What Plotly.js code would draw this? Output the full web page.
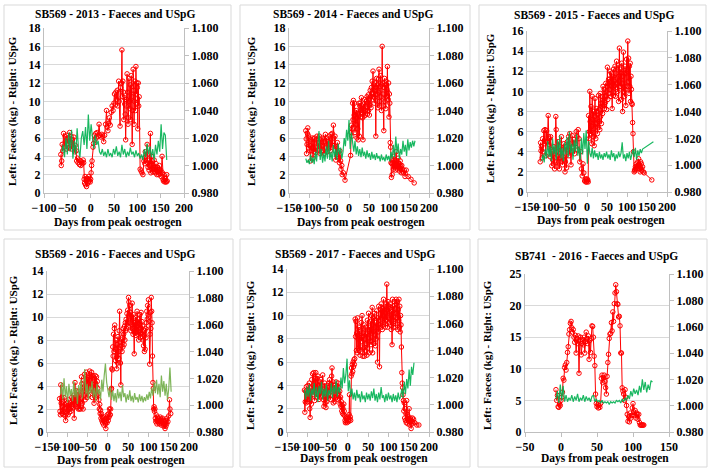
<!DOCTYPE html>
<html>
<head>
<meta charset="utf-8">
<script src="https://cdn.plot.ly/plotly-3.0.1.min.js"></script>
<style>
  html, body { margin: 0; padding: 0; background: #fff; }
  #chart { width: 712px; height: 471px; }
</style>
</head>
<body>
<div id="chart"></div>
<script>
// Faeces (kg, left axis) and urine specific gravity (USpG, right axis)
// against days from peak oestrogen. Pairs are [day, value].

const titles = [
    'SB569 - 2013 - Faeces and USpG',
    'SB569 - 2014 - Faeces and USpG',
    'SB569 - 2015 - Faeces and USpG',
    'SB569 - 2016 - Faeces and USpG',
    'SB569 - 2017 - Faeces and USpG',
    'SB741  - 2016 - Faeces and USpG'
];
const xTitle = 'Days from peak oestrogen';
const yTitle = 'Left: Faeces (kg) - Right: USpG';

const faeces2013 = [[-64,4.2],[-63,3.0],[-62,3.5],[-61,5.3],[-60,4.6],[-58,6.5],[-57,5.0],[-55,6.2],[-54,5.6],[-52,4.8],[-51,6.3],[-49,5.4],[-48,6.0],[-46,4.9],[-45,6.6],[-43,5.5],[-42,6.2],[-40,4.8],[-39,5.8],[-37,5.0],[-36,6.1],[-34,4.5],[-33,5.2],[-31,4.6],[-30,3.5],[-28,3.8],[-27,3.3],[-25,3.6],[-24,3.1],[-22,3.5],[-21,3.0],[-19,3.4],[-18,3.2],[-16,3.6],[-15,3.3],[-14,1.5],[-13,1.1],[-12,1.8],[-11,0.9],[-10,1.4],[-9,0.7],[-8,1.6],[-7,1.0],[-6,1.5],[-5,1.2],[-4,1.8],[-3,1.3],[-2,1.6],[-1,1.2],[0,1.5],[1,2.2],[2,3.0],[3,3.5],[5,5.0],[6,5.4],[8,6.3],[9,5.8],[11,6.5],[12,6.0],[14,6.6],[16,6.2],[18,7.5],[20,6.3],[22,6.1],[24,6.4],[26,6.2],[28,5.6],[30,6.3],[32,7.5],[34,9.0],[35,7.2],[37,6.8],[39,7.6],[40,8.2],[42,7.4],[44,8.8],[46,9.5],[48,9.0],[50,9.8],[51,10.8],[53,9.6],[54,11.0],[56,10.2],[57,11.2],[58,9.5],[60,12.2],[61,10.0],[63,7.3],[64,11.5],[66,12.0],[67,15.6],[68,10.5],[69,12.2],[70,11.0],[71,8.0],[72,10.4],[73,9.7],[74,8.6],[75,5.8],[76,9.5],[77,10.2],[78,13.0],[79,11.0],[80,7.5],[81,8.2],[82,12.5],[83,10.0],[84,9.2],[85,11.8],[86,8.0],[87,12.8],[88,10.5],[89,5.3],[90,9.0],[91,13.5],[92,11.2],[93,7.5],[94,10.0],[95,12.2],[96,9.0],[97,13.8],[98,10.8],[99,12.0],[100,11.5],[101,7.0],[102,12.0],[103,9.5],[104,10.5],[106,2.6],[108,2.4],[110,2.2],[112,2.0],[114,3.5],[115,3.8],[116,3.2],[117,4.5],[119,4.0],[121,5.3],[122,3.3],[123,2.8],[124,3.5],[125,2.5],[126,3.0],[128,6.5],[129,2.2],[130,4.0],[131,2.6],[132,3.5],[133,2.3],[134,3.0],[135,2.6],[136,3.6],[137,2.3],[138,2.8],[139,2.2],[140,3.2],[141,2.5],[142,2.0],[143,2.8],[144,2.3],[145,2.6],[146,2.0],[147,3.0],[148,2.4],[149,2.1],[150,2.5],[151,1.8],[153,4.0],[154,2.2],[155,1.5],[156,1.3],[157,2.0],[158,1.4],[159,1.2],[160,1.6],[161,1.3],[162,1.2],[163,2.0],[164,1.3]];
const uspg2013 = [[-62,1.010],[-59,1.015],[-56,1.006],[-53,1.020],[-50,1.008],[-47,1.024],[-44,1.010],[-41,1.026],[-38,1.005],[-35,1.018],[-32,1.008],[-29,1.027],[-26,1.012],[-23,1.006],[-20,1.020],[-17,1.025],[-14,1.015],[-11,1.028],[-8,1.012],[-5,1.037],[-2,1.018],[1,1.030],[4,1.020],[7,1.012],[10,1.022],[13,1.015],[16,1.018],[19,1.010],[22,1.008],[25,1.012],[28,1.007],[31,1.010],[34,1.006],[37,1.012],[40,1.007],[43,1.009],[46,1.006],[49,1.012],[52,1.008],[55,1.014],[58,1.007],[61,1.010],[64,1.006],[67,1.015],[70,1.008],[73,1.012],[76,1.006],[79,1.010],[82,1.007],[85,1.013],[88,1.008],[91,1.010],[94,1.006],[97,1.011],[100,1.007],[103,1.009],[106,1.005],[109,1.008],[112,1.004],[115,1.012],[118,1.006],[121,1.016],[124,1.008],[127,1.014],[130,1.006],[133,1.012],[136,1.004],[139,1.015],[142,1.008],[145,1.018],[148,1.010],[151,1.030],[154,1.012],[157,1.024],[160,1.022],[163,1.004]];

const faeces2014 = [[-108,6.8],[-107,5.9],[-106,4.3],[-105,5.3],[-104,6.5],[-103,7.1],[-102,6.3],[-101,4.9],[-100,6.0],[-99,5.2],[-98,4.6],[-96,3.5],[-95,5.8],[-94,4.6],[-92,6.0],[-91,5.0],[-90,3.8],[-88,5.9],[-87,4.5],[-86,6.0],[-84,5.0],[-83,4.4],[-81,5.8],[-80,6.2],[-78,4.6],[-77,5.5],[-75,4.8],[-74,6.2],[-72,4.3],[-71,5.8],[-69,4.5],[-68,6.0],[-66,5.2],[-65,4.6],[-63,5.9],[-62,4.3],[-60,5.6],[-59,6.4],[-57,5.0],[-56,6.0],[-54,4.5],[-53,5.6],[-51,4.9],[-50,6.2],[-48,5.5],[-47,4.6],[-45,6.4],[-44,5.0],[-42,6.5],[-41,5.2],[-39,7.4],[-38,6.0],[-36,5.2],[-35,6.2],[-33,3.6],[-32,5.0],[-30,4.2],[-29,5.5],[-27,4.0],[-26,3.8],[-24,3.3],[-23,4.6],[-21,3.5],[-20,2.6],[-18,3.0],[-17,2.0],[-14,2.2],[-10,1.4],[4,4.1],[5,6.6],[6,7.4],[7,6.2],[8,7.0],[9,9.8],[10,8.0],[11,10.1],[12,7.2],[13,8.5],[14,9.8],[15,6.6],[16,8.8],[17,7.5],[18,9.0],[19,8.2],[20,6.0],[21,8.7],[22,7.0],[23,5.8],[24,8.5],[25,9.8],[26,6.2],[27,9.5],[28,9.8],[29,8.3],[30,9.0],[31,10.4],[32,8.8],[33,9.5],[34,8.2],[35,5.8],[36,9.7],[37,9.2],[38,8.4],[39,10.2],[40,9.0],[41,8.5],[42,9.4],[43,10.0],[44,9.7],[45,10.5],[46,8.6],[47,9.8],[48,10.7],[49,9.0],[50,10.2],[51,8.5],[52,9.6],[53,11.2],[54,10.5],[55,9.3],[56,11.5],[57,10.8],[58,12.2],[59,11.0],[60,13.3],[61,10.5],[62,11.8],[63,9.8],[64,10.4],[65,12.0],[66,11.2],[67,6.2],[68,11.5],[69,12.5],[70,10.8],[71,11.8],[72,9.3],[73,12.4],[74,11.0],[75,13.5],[76,10.0],[77,9.5],[78,11.6],[79,12.8],[80,10.5],[81,9.0],[82,11.8],[83,16.0],[84,12.0],[85,10.8],[86,9.5],[87,6.8],[88,11.5],[89,12.5],[90,10.0],[91,11.8],[92,9.2],[93,12.2],[94,10.5],[95,11.3],[96,13.8],[97,11.0],[98,10.2],[99,12.0],[100,8.3],[101,10.8],[102,9.8],[103,5.5],[104,5.0],[105,3.3],[106,1.7],[107,3.2],[108,2.0],[109,3.5],[110,3.3],[111,2.6],[112,4.0],[113,3.0],[114,2.8],[115,3.6],[116,2.5],[117,3.2],[118,4.5],[119,2.8],[120,3.5],[121,2.6],[122,3.0],[123,3.8],[124,2.8],[125,3.2],[126,2.4],[127,3.0],[128,3.5],[129,2.6],[130,2.9],[131,2.2],[132,3.0],[133,2.6],[134,2.4],[136,2.2],[138,2.5],[140,1.8],[143,2.5],[148,1.8],[155,1.5],[163,1.1]];
const uspg2014 = [[-108,1.005],[-105,1.002],[-102,1.004],[-99,1.001],[-96,1.008],[-93,1.002],[-90,1.006],[-87,1.001],[-84,1.010],[-81,1.003],[-78,1.016],[-75,1.025],[-72,1.004],[-69,1.012],[-66,1.002],[-63,1.009],[-60,1.003],[-57,1.014],[-54,1.005],[-51,1.018],[-48,1.004],[-45,1.010],[-42,1.003],[-39,1.015],[-36,1.006],[-33,1.012],[-30,1.004],[-27,1.016],[-24,1.008],[-21,1.013],[-18,1.005],[-15,1.010],[-12,1.020],[-9,1.014],[-6,1.026],[-3,1.018],[0,1.033],[3,1.012],[6,1.024],[9,1.017],[12,1.010],[15,1.018],[18,1.008],[21,1.014],[24,1.007],[27,1.012],[30,1.006],[33,1.013],[36,1.007],[39,1.010],[42,1.005],[45,1.011],[48,1.006],[51,1.009],[54,1.004],[57,1.010],[60,1.005],[63,1.008],[66,1.004],[69,1.009],[72,1.005],[75,1.007],[78,1.003],[81,1.008],[84,1.004],[87,1.006],[90,1.003],[93,1.008],[96,1.004],[99,1.007],[102,1.003],[105,1.010],[108,1.005],[111,1.015],[114,1.006],[117,1.021],[120,1.009],[123,1.016],[126,1.005],[129,1.012],[132,1.008],[135,1.018],[138,1.010],[141,1.015],[144,1.007],[147,1.019],[150,1.011],[153,1.017],[156,1.013],[159,1.018],[162,1.014],[165,1.018]];

const faeces2015 = [[-117,3.0],[-116,4.9],[-115,4.1],[-114,4.5],[-112,3.4],[-111,5.3],[-110,4.0],[-108,6.1],[-107,4.8],[-105,6.2],[-104,5.0],[-103,3.6],[-101,6.1],[-99,5.0],[-97,7.6],[-96,5.5],[-95,4.7],[-94,5.3],[-92,3.5],[-91,5.5],[-90,4.2],[-88,2.6],[-87,4.0],[-86,3.2],[-84,2.8],[-83,4.5],[-81,2.3],[-80,3.4],[-78,7.5],[-77,6.2],[-76,4.0],[-75,2.5],[-73,3.6],[-72,5.0],[-71,3.0],[-69,2.3],[-68,3.8],[-67,4.5],[-65,3.0],[-64,5.5],[-63,4.2],[-61,2.7],[-60,3.5],[-58,4.8],[-57,3.2],[-55,2.0],[-54,3.0],[-52,4.5],[-51,2.4],[-49,5.0],[-48,4.2],[-46,5.5],[-45,3.6],[-43,5.8],[-42,4.8],[-40,2.7],[-39,4.0],[-37,5.6],[-35,4.5],[-33,5.2],[-31,3.8],[-29,4.8],[-27,6.0],[-25,5.5],[-23,4.2],[-22,6.2],[-20,5.3],[-18,3.0],[-16,4.0],[-14,2.3],[-12,1.6],[-10,2.8],[-8,1.9],[-6,1.1],[-4,1.3],[-3,1.0],[-2,1.2],[-1,1.0],[0,1.3],[1,1.1],[2,1.2],[3,1.0],[4,7.6],[5,5.3],[6,6.0],[7,10.0],[8,7.0],[9,5.8],[10,8.5],[11,6.5],[12,4.8],[13,9.5],[14,7.2],[15,5.5],[16,8.0],[17,6.3],[18,4.6],[19,7.5],[20,9.3],[21,6.8],[22,5.3],[23,8.3],[24,6.9],[25,8.0],[26,5.8],[27,7.7],[28,6.4],[29,9.6],[30,7.0],[31,8.2],[32,6.2],[33,9.8],[34,7.5],[35,8.8],[36,6.8],[37,8.5],[38,9.5],[39,7.8],[40,10.5],[41,8.6],[42,9.0],[43,10.2],[44,8.3],[45,9.5],[46,8.9],[47,10.8],[48,9.6],[49,8.2],[50,10.5],[51,12.4],[52,9.2],[53,10.8],[54,11.2],[55,9.8],[56,11.2],[57,10.2],[58,12.0],[59,11.0],[60,9.5],[61,11.8],[62,10.5],[63,8.3],[64,11.5],[65,10.4],[66,12.2],[67,9.6],[68,11.0],[69,10.6],[70,12.5],[71,9.5],[72,11.8],[73,10.2],[74,13.0],[75,10.8],[76,11.3],[77,10.0],[78,12.6],[79,9.0],[80,11.5],[81,14.3],[82,10.5],[83,12.2],[84,10.5],[85,11.8],[86,9.2],[87,12.8],[88,10.8],[89,8.0],[90,11.5],[91,13.9],[92,10.0],[93,11.8],[94,9.5],[95,12.5],[96,10.2],[97,8.6],[98,11.8],[99,13.2],[100,10.5],[101,12.0],[102,15.0],[103,11.0],[104,13.3],[105,9.8],[106,12.5],[107,10.5],[108,12.8],[109,9.0],[110,11.5],[111,10.2],[112,8.8],[113,8.7],[114,6.9],[115,5.8],[116,4.0],[118,2.0],[119,2.2],[120,2.1],[121,2.5],[122,2.3],[123,2.8],[124,2.4],[125,2.6],[127,3.0],[128,2.5],[129,3.3],[130,2.8],[131,2.3],[132,2.6],[133,2.0],[134,3.0],[135,2.4],[136,2.8],[137,2.1],[139,2.5],[141,2.0],[143,1.9],[162,1.2]];
const uspg2015 = [[-113,1.003],[-110,1.008],[-107,1.002],[-104,1.012],[-101,1.005],[-98,1.018],[-95,1.006],[-92,1.014],[-89,1.003],[-86,1.020],[-83,1.008],[-80,1.015],[-77,1.004],[-74,1.019],[-71,1.007],[-68,1.022],[-65,1.005],[-62,1.013],[-59,1.003],[-56,1.017],[-53,1.008],[-50,1.021],[-47,1.006],[-44,1.025],[-41,1.009],[-38,1.016],[-35,1.004],[-32,1.019],[-29,1.010],[-26,1.023],[-23,1.007],[-20,1.014],[-17,1.004],[-14,1.020],[-11,1.008],[-8,1.024],[-5,1.012],[-2,1.026],[1,1.001],[4,1.018],[7,1.009],[10,1.006],[13,1.013],[16,1.005],[19,1.011],[22,1.006],[25,1.009],[28,1.004],[31,1.010],[34,1.005],[37,1.008],[40,1.004],[43,1.009],[46,1.006],[49,1.010],[52,1.005],[55,1.008],[58,1.004],[61,1.011],[64,1.006],[67,1.009],[70,1.003],[73,1.008],[76,1.005],[79,1.010],[82,1.006],[85,1.009],[88,1.017],[91,1.005],[94,1.008],[97,1.003],[100,1.009],[103,1.005],[106,1.010],[109,1.004],[112,1.008],[115,1.012],[118,1.006],[121,1.013],[124,1.004],[127,1.011],[130,1.007],[133,1.012],[136,1.009],[139,1.012],[166,1.0175]];

const faeces2016 = [[-119,2.9],[-118,1.8],[-117,1.5],[-116,4.1],[-115,2.5],[-114,3.0],[-113,1.6],[-112,2.2],[-111,1.8],[-110,2.6],[-109,1.5],[-108,3.0],[-107,2.0],[-106,2.4],[-105,1.4],[-104,1.0],[-103,2.1],[-102,1.6],[-101,2.5],[-100,1.9],[-99,2.3],[-98,1.5],[-97,2.8],[-96,2.0],[-95,1.7],[-94,2.4],[-93,2.0],[-92,2.6],[-91,1.8],[-90,2.2],[-89,3.0],[-88,2.4],[-86,2.9],[-85,2.1],[-84,3.2],[-83,1.2],[-82,2.5],[-81,4.3],[-80,3.0],[-79,2.4],[-78,3.6],[-77,2.8],[-76,2.2],[-75,3.0],[-74,2.5],[-73,2.0],[-72,3.5],[-71,2.7],[-70,2.0],[-69,3.2],[-68,2.6],[-67,2.0],[-66,3.4],[-65,4.8],[-64,4.2],[-63,2.5],[-62,3.8],[-61,2.0],[-60,4.5],[-59,3.6],[-58,5.0],[-57,4.0],[-56,2.8],[-55,4.8],[-54,3.5],[-53,5.2],[-52,4.0],[-51,3.0],[-50,4.6],[-49,3.8],[-48,3.2],[-47,4.8],[-46,3.6],[-45,5.3],[-44,4.5],[-43,5.0],[-42,3.8],[-41,4.8],[-40,5.2],[-39,4.2],[-38,3.0],[-37,4.9],[-36,3.5],[-35,4.5],[-34,2.5],[-33,4.7],[-32,3.6],[-31,4.9],[-30,3.0],[-29,4.0],[-28,4.8],[-27,3.2],[-26,4.4],[-25,3.8],[-24,3.3],[-22,2.8],[-21,2.0],[-20,2.4],[-19,1.6],[-18,1.9],[-17,1.2],[-16,1.6],[-15,1.0],[-14,1.3],[-13,0.8],[-12,1.2],[-11,1.0],[-10,0.6],[-9,1.3],[-8,0.9],[-7,1.1],[-6,0.7],[-5,0.3],[-4,0.9],[-3,1.2],[-2,0.8],[-1,1.5],[0,1.2],[1,1.0],[2,1.6],[3,1.3],[4,2.0],[5,1.5],[6,1.5],[7,2.0],[8,3.7],[9,3.8],[10,5.5],[11,5.4],[12,7.4],[13,6.6],[14,8.5],[15,7.0],[16,9.0],[17,9.3],[18,7.2],[19,6.2],[20,8.0],[21,6.5],[22,5.5],[23,7.6],[24,6.0],[25,8.3],[26,7.0],[27,6.4],[28,8.8],[29,10.5],[30,7.8],[31,6.0],[32,4.1],[33,7.5],[34,8.0],[35,7.0],[36,8.2],[37,7.4],[38,9.0],[39,8.5],[40,7.6],[41,9.2],[42,8.0],[43,9.5],[44,8.8],[45,9.8],[46,9.0],[47,10.3],[48,9.5],[49,10.6],[50,9.2],[51,11.7],[52,11.3],[53,10.0],[54,11.0],[55,9.5],[56,10.4],[57,8.8],[58,10.0],[59,9.3],[60,11.2],[61,9.0],[62,8.5],[63,10.2],[64,8.8],[65,6.8],[66,9.5],[67,8.6],[68,10.0],[69,8.4],[70,9.6],[71,8.7],[72,10.5],[73,9.2],[74,8.5],[75,9.8],[76,8.0],[77,9.4],[78,8.7],[79,10.2],[80,8.2],[81,9.0],[82,10.4],[83,8.6],[84,9.6],[85,8.3],[86,9.2],[87,8.0],[88,7.5],[89,8.4],[90,7.0],[91,8.8],[92,7.2],[93,9.0],[94,8.2],[95,9.5],[96,10.5],[97,9.8],[98,11.0],[99,10.2],[100,11.5],[101,10.0],[102,9.6],[103,5.9],[104,8.5],[105,10.4],[106,9.0],[107,11.7],[108,10.5],[109,9.5],[110,6.6],[111,4.3],[112,3.8],[113,2.0],[114,2.2],[115,1.8],[116,2.0],[117,1.2],[118,0.9],[119,1.5],[120,1.0],[121,0.7],[122,1.3],[123,0.9],[124,1.1],[125,0.8],[126,1.2],[127,0.7],[128,1.0],[129,1.3],[130,0.8],[131,1.0],[132,0.6],[133,1.1],[134,0.9],[135,1.2],[136,0.7],[137,1.0],[138,0.5],[139,0.9],[140,0.6],[141,0.3],[142,0.8],[143,0.5],[144,1.0],[145,0.7],[146,1.2],[148,0.9],[150,1.4],[152,2.8],[153,2.0],[155,1.6]];
const uspg2016 = [[-117,1.008],[-114,1.017],[-111,1.004],[-108,1.020],[-105,1.006],[-102,1.014],[-99,1.002],[-96,1.016],[-93,1.007],[-90,1.012],[-87,1.003],[-84,1.018],[-81,1.006],[-78,1.013],[-75,1.001],[-72,1.015],[-69,1.008],[-66,1.019],[-63,1.005],[-60,1.013],[-57,1.027],[-54,1.008],[-51,1.016],[-48,1.004],[-45,1.014],[-42,1.009],[-39,1.018],[-36,1.006],[-33,1.013],[-30,1.003],[-27,1.016],[-24,1.008],[-21,1.012],[-18,1.004],[-15,1.019],[-12,1.010],[-9,1.022],[-6,1.031],[-3,1.017],[0,1.012],[3,1.006],[6,1.014],[9,1.004],[12,1.011],[15,1.003],[18,1.009],[21,1.002],[24,1.012],[27,1.005],[30,1.010],[33,1.003],[36,1.015],[39,1.006],[42,1.009],[45,1.002],[48,1.008],[51,1.004],[54,1.011],[57,1.003],[60,1.007],[63,1.002],[66,1.009],[69,1.004],[72,1.006],[75,1.002],[78,1.008],[81,1.003],[84,1.007],[87,1.002],[90,1.006],[93,1.003],[96,1.008],[99,1.004],[102,1.010],[105,1.005],[108,1.013],[111,1.007],[114,1.017],[117,1.009],[120,1.019],[123,1.008],[126,1.016],[129,1.006],[132,1.022],[135,1.010],[138,1.018],[141,1.007],[144,1.016],[147,1.004],[150,1.012],[153,1.028],[156,1.010]];

const faeces2017 = [[-107,3.6],[-106,1.7],[-105,2.6],[-104,3.5],[-103,2.5],[-102,3.9],[-101,2.8],[-100,3.5],[-99,2.6],[-98,4.0],[-97,3.4],[-96,2.8],[-95,4.2],[-94,2.0],[-93,1.25],[-92,3.0],[-91,3.8],[-90,2.4],[-89,4.5],[-88,3.5],[-87,5.0],[-86,3.2],[-85,4.0],[-84,5.1],[-83,3.8],[-82,2.7],[-81,4.6],[-80,3.6],[-79,5.1],[-78,4.2],[-77,3.0],[-76,4.6],[-75,3.5],[-74,4.8],[-73,3.2],[-72,4.0],[-71,2.8],[-70,3.6],[-69,4.3],[-68,3.0],[-67,3.8],[-66,4.5],[-65,3.2],[-64,4.0],[-63,3.5],[-62,4.9],[-61,2.8],[-60,3.6],[-59,2.2],[-58,3.4],[-57,4.2],[-56,2.5],[-55,3.0],[-54,2.1],[-53,3.6],[-52,2.6],[-51,4.0],[-50,3.0],[-49,3.8],[-48,2.9],[-47,4.2],[-46,3.3],[-45,4.5],[-44,3.6],[-43,2.8],[-42,4.1],[-41,3.5],[-40,4.8],[-39,5.5],[-38,3.8],[-37,4.3],[-36,2.5],[-35,3.6],[-34,3.0],[-33,4.0],[-32,2.6],[-31,3.8],[-30,3.2],[-29,4.3],[-28,3.0],[-27,3.9],[-26,2.8],[-25,3.5],[-24,4.2],[-23,3.3],[-22,3.8],[-21,2.9],[-20,3.5],[-19,2.4],[-18,3.0],[-17,2.2],[-16,2.6],[-15,1.8],[-14,2.3],[-13,1.6],[-12,2.0],[-11,1.5],[-10,2.4],[-9,1.8],[-8,1.4],[-7,1.0],[-6,0.8],[-5,1.2],[-4,0.9],[-3,1.1],[-2,0.8],[-1,1.3],[0,1.0],[1,1.2],[2,0.9],[3,1.5],[4,3.2],[5,1.1],[6,1.3],[7,1.0],[8,4.8],[9,5.5],[10,5.0],[11,5.8],[12,5.2],[13,6.0],[14,5.6],[15,6.2],[16,5.8],[17,6.3],[18,9.7],[19,8.2],[20,9.5],[21,7.0],[22,8.5],[23,6.8],[24,9.8],[25,8.0],[26,7.2],[27,9.0],[28,7.0],[29,8.6],[30,6.6],[31,8.8],[32,7.3],[33,9.4],[34,7.8],[35,10.0],[36,8.2],[37,6.5],[38,8.5],[39,7.2],[40,9.2],[41,6.5],[42,8.0],[43,7.0],[44,9.0],[45,7.6],[46,8.4],[47,6.6],[48,9.6],[49,7.2],[50,8.8],[51,10.2],[52,8.0],[53,6.8],[54,9.0],[55,7.8],[56,9.5],[57,7.5],[58,10.0],[59,8.5],[60,10.7],[61,6.8],[62,8.6],[63,9.8],[64,7.6],[65,10.2],[66,8.4],[67,9.0],[68,7.4],[69,9.4],[70,8.0],[71,10.4],[72,9.0],[73,6.0],[74,9.8],[75,8.6],[76,10.8],[77,9.2],[78,5.6],[79,9.6],[80,10.5],[81,9.0],[82,11.0],[83,9.8],[84,10.4],[85,8.8],[86,10.6],[87,9.2],[88,11.4],[89,10.0],[90,9.4],[91,10.8],[92,9.0],[93,10.2],[94,11.0],[95,9.6],[96,12.7],[97,10.5],[98,9.0],[99,11.2],[100,10.0],[101,10.8],[102,9.4],[103,10.6],[104,11.0],[105,9.2],[106,10.0],[107,8.8],[108,10.4],[109,7.5],[110,11.4],[111,9.6],[112,10.8],[113,9.0],[114,10.2],[115,11.2],[116,9.5],[117,10.6],[118,9.0],[119,11.4],[120,10.2],[121,9.8],[122,11.2],[123,8.8],[124,10.5],[125,9.6],[126,11.4],[127,9.0],[128,10.8],[129,8.6],[130,10.0],[131,9.2],[132,7.3],[133,5.1],[134,4.2],[135,3.8],[136,3.2],[137,2.7],[138,1.8],[139,2.5],[140,1.2],[141,2.0],[142,1.0],[143,1.6],[144,0.8],[145,2.7],[146,1.1],[147,1.5],[148,0.7],[149,1.3],[150,0.9],[151,2.0],[152,1.1],[153,0.6],[154,1.2],[155,0.9],[156,0.3],[157,1.0],[158,0.7],[159,1.2],[160,0.9],[162,1.1],[165,0.8],[170,0.6],[175,0.6]];
const uspg2017 = [[-107,1.011],[-104,1.004],[-101,1.013],[-98,1.006],[-95,1.015],[-92,1.003],[-89,1.012],[-86,1.007],[-83,1.016],[-80,1.005],[-77,1.013],[-74,1.002],[-71,1.014],[-68,1.008],[-65,1.017],[-62,1.004],[-59,1.012],[-56,1.006],[-53,1.015],[-50,1.003],[-47,1.011],[-44,1.007],[-41,1.016],[-38,1.005],[-35,1.014],[-32,1.008],[-29,1.018],[-26,1.006],[-23,1.013],[-20,1.009],[-17,1.020],[-14,1.012],[-11,1.027],[-8,1.016],[-5,1.022],[-2,1.034],[1,1.010],[4,1.018],[7,1.006],[10,1.012],[13,1.004],[16,1.009],[19,1.003],[22,1.011],[25,1.005],[28,1.008],[31,1.002],[34,1.010],[37,1.004],[40,1.007],[43,1.002],[46,1.009],[49,1.004],[52,1.008],[55,1.003],[58,1.010],[61,1.005],[64,1.012],[67,1.003],[70,1.008],[73,1.002],[76,1.009],[79,1.004],[82,1.013],[85,1.005],[88,1.007],[91,1.002],[94,1.008],[97,1.003],[100,1.009],[103,1.004],[106,1.007],[109,1.002],[112,1.008],[115,1.003],[118,1.007],[121,1.002],[124,1.009],[127,1.004],[130,1.006],[133,1.012],[136,1.005],[139,1.017],[142,1.008],[145,1.019],[148,1.012],[151,1.026],[154,1.014],[157,1.028],[160,1.022],[163,1.031]];

const faeces741 = [[-7,6.7],[-6,5.0],[-5,5.8],[-4,4.0],[-3,3.9],[-2,4.4],[-1,4.2],[0,5.0],[1,5.5],[2,6.3],[3,8.5],[4,8.2],[5,10.2],[6,10.6],[7,9.8],[8,11.0],[9,12.6],[10,13.5],[11,15.5],[12,16.2],[13,17.2],[14,17.5],[15,16.5],[16,15.8],[17,16.2],[18,15.0],[19,14.2],[20,15.3],[21,12.5],[22,14.8],[23,14.0],[24,15.2],[25,9.3],[26,14.5],[27,15.0],[28,12.2],[29,14.0],[30,14.6],[31,13.8],[32,15.0],[33,12.5],[34,14.3],[35,15.8],[36,14.8],[37,14.0],[38,15.2],[39,11.5],[40,14.5],[41,12.6],[42,14.8],[43,16.8],[44,16.7],[45,15.0],[46,12.0],[47,10.5],[48,6.0],[49,4.5],[50,4.0],[51,4.3],[52,3.8],[53,4.2],[54,3.9],[55,4.5],[56,8.5],[57,9.0],[58,7.8],[59,8.6],[60,9.0],[61,8.0],[62,7.0],[63,6.0],[64,8.8],[65,11.0],[66,12.3],[67,14.8],[68,15.5],[69,15.6],[70,17.3],[71,16.0],[72,19.0],[73,17.5],[74,20.3],[75,22.0],[76,23.3],[77,22.2],[78,20.3],[79,20.2],[80,18.2],[81,18.3],[82,16.8],[83,12.5],[84,12.5],[85,7.0],[86,6.5],[87,6.0],[88,5.0],[89,6.7],[90,5.5],[91,4.2],[92,2.8],[93,1.7],[94,2.4],[95,1.6],[96,3.0],[97,2.2],[98,2.6],[99,3.8],[100,4.5],[101,3.2],[102,2.6],[103,3.4],[104,2.2],[105,3.0],[106,2.8],[107,2.0],[108,2.8],[109,1.5],[110,1.1],[111,1.1],[112,1.1],[113,1.1],[114,1.1],[115,1.1]];
const uspg741 = [[-7,1.005],[-5,1.011],[-3,1.002],[-1,1.016],[1,1.004],[3,1.015],[5,1.003],[7,1.008],[9,1.003],[11,1.006],[13,1.004],[15,1.008],[17,1.003],[19,1.007],[21,1.004],[23,1.009],[25,1.003],[27,1.006],[29,1.004],[31,1.008],[33,1.003],[35,1.007],[37,1.004],[39,1.006],[41,1.003],[43,1.007],[45,1.008],[47,1.003],[49,1.005],[51,1.003],[53,1.004],[55,1.002],[57,1.004],[59,1.002],[61,1.003],[63,1.002],[65,1.003],[67,1.001],[69,1.003],[71,1.002],[73,1.003],[75,1.002],[77,1.004],[79,1.003],[81,1.004],[83,1.002],[85,1.005],[87,1.003],[89,1.006],[91,1.004],[93,1.008],[95,1.005],[97,1.011],[99,1.007],[101,1.013],[103,1.009],[105,1.012],[107,1.008],[109,1.015],[111,1.010],[113,1.020],[115,1.012],[117,1.018],[119,1.010],[121,1.016],[123,1.012],[125,1.019],[127,1.018]];

const faecesSeries = [faeces2013, faeces2014, faeces2015, faeces2016, faeces2017, faeces741];
const uspgSeries = [uspg2013, uspg2014, uspg2015, uspg2016, uspg2017, uspg741];
const xRanges = [[-100, 200], [-150, 200], [-150, 200], [-150, 200], [-150, 200], [-50, 150]];
const leftRanges = [[0, 18], [0, 18], [0, 16], [0, 14], [0, 14], [0, 25]];
const leftSteps = [2, 2, 2, 2, 2, 5];
const rightRange = [0.98, 1.10];

// pixel layout of the page (712 x 471)
const W = 712, H = 471;
const FONT = '"Liberation Serif", "Times New Roman", serif';
const plotBoxes = [   // [left, top, right, bottom] of each plot area
    [44, 28, 184, 193], [289, 28, 429, 193], [527, 31, 667, 192],
    [47, 271, 189, 432], [287, 269, 429, 432], [525, 274, 669, 432]
];
const frames = [
    [4, 5, 231, 230], [240, 5, 470, 230], [479, 5, 706, 230],
    [4, 239, 233, 467], [240, 239, 470, 467], [478, 239, 707, 467]
];
const titlePos = [[115, 15], [353, 15], [594, 16], [115, 254], [355, 254], [596, 256]];
const xTitlePos = [[118, 222], [361, 222], [601, 220], [121, 460], [364, 458], [605, 458]];
const yTitlePos = [[13, 111], [252, 111], [491, 108], [13, 350], [250, 355], [487, 355]];
const greenColors = ['#00B050', '#00B050', '#00B050', '#70AD47', '#00B050', '#00B050'];

const px = v => v / W;
const py = v => 1 - v / H;

function tickFont() {
    return { family: FONT, size: 12, color: '#000', weight: 'bold' };
}

const data = [];
const layout = {
    width: W, height: H,
    margin: { l: 0, r: 0, t: 0, b: 0 },
    paper_bgcolor: '#fff',
    plot_bgcolor: 'rgba(0,0,0,0)',
    showlegend: false,
    annotations: [],
    shapes: []
};

plotBoxes.forEach((box, i) => {
    const n = i + 1;
    const xId = n === 1 ? 'x' : 'x' + n;
    const yL = 2 * n - 1, yR = 2 * n;
    const yLId = yL === 1 ? 'y' : 'y' + yL;
    const yRId = 'y' + yR;
    const xKey = n === 1 ? 'xaxis' : 'xaxis' + n;
    const yLKey = yL === 1 ? 'yaxis' : 'yaxis' + yL;
    const yRKey = 'yaxis' + yR;
    const [l, t, r, b] = box;

    layout[xKey] = {
        domain: [px(l), px(r)], anchor: yLId,
        range: xRanges[i], tick0: 0, dtick: 50, tickangle: 0,
        showgrid: false, zeroline: false,
        showline: true, linecolor: '#BFBFBF', linewidth: 1,
        ticks: 'outside', ticklen: 4, tickcolor: '#BFBFBF',
        tickfont: tickFont()
    };
    layout[yLKey] = {
        domain: [py(b), py(t)], anchor: xId,
        range: leftRanges[i], tick0: 0, dtick: leftSteps[i],
        showgrid: true, gridcolor: '#D9D9D9', gridwidth: 1, zeroline: false,
        showline: true, linecolor: '#BFBFBF', linewidth: 1,
        ticks: '', tickfont: tickFont()
    };
    layout[yRKey] = {
        overlaying: yLId, anchor: xId, side: 'right',
        range: rightRange, tick0: 0.98, dtick: 0.02, tickformat: '.3f',
        showgrid: false, zeroline: false,
        showline: true, linecolor: '#BFBFBF', linewidth: 1,
        ticks: 'outside', ticklen: 4, tickcolor: '#BFBFBF',
        tickfont: tickFont()
    };

    const faeces = faecesSeries[i];
    const uspg = uspgSeries[i];
    data.push({
        type: 'scatter', mode: 'lines+markers',
        x: faeces.map(p => p[0]), y: faeces.map(p => p[1]),
        xaxis: xId, yaxis: yLId,
        line: { color: '#FF0000', width: 1 },
        marker: { symbol: 'circle-open', size: 4.5, color: '#FF0000', line: { width: 1, color: '#FF0000' } }
    });
    data.push({
        type: 'scatter', mode: 'lines',
        x: uspg.map(p => p[0]), y: uspg.map(p => p[1]),
        xaxis: xId, yaxis: yRId,
        opacity: 0.9,
        line: { color: greenColors[i], width: 1.2 }
    });

    // panel frame
    const f = frames[i];
    layout.shapes.push({
        type: 'rect', xref: 'paper', yref: 'paper',
        x0: px(f[0]), x1: px(f[2]), y0: py(f[3]), y1: py(f[1]),
        line: { color: '#D9D9D9', width: 1 }, fillcolor: 'rgba(0,0,0,0)'
    });

    // chart title
    layout.annotations.push({
        xref: 'paper', yref: 'paper', x: px(titlePos[i][0]), y: py(titlePos[i][1]),
        text: titles[i], showarrow: false, xanchor: 'center', yanchor: 'middle',
        font: { family: FONT, size: 11.5, color: '#000', weight: 'bold' }
    });
    // x-axis title
    layout.annotations.push({
        xref: 'paper', yref: 'paper', x: px(xTitlePos[i][0]), y: py(xTitlePos[i][1]),
        text: xTitle, showarrow: false, xanchor: 'center', yanchor: 'middle',
        font: { family: FONT, size: 11.5, color: '#000', weight: 'bold' }
    });
    // y-axis title
    layout.annotations.push({
        xref: 'paper', yref: 'paper', x: px(yTitlePos[i][0]), y: py(yTitlePos[i][1]),
        text: yTitle, showarrow: false, textangle: -90, xanchor: 'center', yanchor: 'middle',
        font: { family: FONT, size: 11, color: '#000', weight: 'bold' }
    });
});

Plotly.newPlot('chart', data, layout, { staticPlot: true, displayModeBar: false });
</script>
</body>
</html>
